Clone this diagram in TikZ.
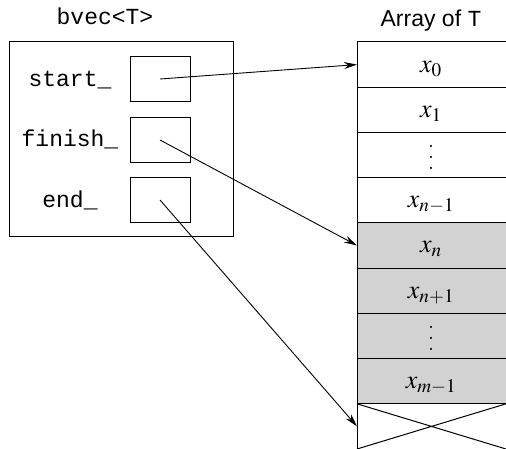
\documentclass[tikz,border=0pt]{standalone}
\usepackage{mathptmx}
\usepackage{fontspec}
\setsansfont{Liberation Sans}
\setmonofont{Liberation Mono}
\usetikzlibrary{arrows.meta}
\newcommand{\figsize}{\fontsize{23}{28}\selectfont}
\newcommand{\elemsize}{\fontsize{26}{31}\selectfont}
\tikzset{
  ptr/.style={-{Stealth[length=13pt,width=7pt]},line width=0.9pt},
  slot/.style={draw,line width=1pt,minimum width=60pt,minimum height=45pt,inner sep=0pt},
  field/.style={font=\figsize\ttfamily,anchor=base},
  elem/.style={font=\elemsize,anchor=base,inner sep=1pt},
  cellline/.style={line width=1pt},
  spare/.style={fill=gray!35,draw=none}
}
\newcommand{\tallvdots}{\lower7pt\vbox{\baselineskip=11pt\lineskiplimit=0pt\hbox{.}\hbox{.}\hbox{.}}}

\begin{document}
\begin{tikzpicture}[x=1pt,y=-1pt]
    \useasboundingbox (0,0) rectangle (506,449);
    \node[field] (vectitle) at (105,25) {bvec<T>};
    \node[font=\figsize\sffamily,anchor=base] (arrtitle) at (431,27) {Array of {\ttfamily T}};
    % the bvec object
    \draw[cellline] (9,42) rectangle (233,237);
    \node[slot] (startbox) at (160,79) {};
    \node[slot] (finishbox) at (160,140) {};
    \node[slot] (endbox) at (160,200) {};
    \node[field] (startlbl) at (70,87) {start\_};
    \node[field] (finishlbl) at (70,147) {finish\_};
    \node[field] (endlbl) at (70,208) {end\_};
    % the array
    \path[spare] (357,222.9)--(506,222.9)--(506,403.8)--(357,403.8)--cycle;
    \foreach \i in {0,...,8}
      \draw[cellline] (357,42+45.22*\i)--(506,42+45.22*\i);
    \draw[cellline] (357,42)--(357,449);
    \draw[cellline] (357,403.8)--(506,449) (357,449)--(506,403.8);
    \foreach \lbl [count=\i from 0] in {x_0,x_1,\tallvdots,x_{n-1},x_n,x_{n+1},\tallvdots,x_{m-1}}
      \node[elem] (elem\i) at (431,72.1+45.22*\i) {$\lbl$};
    \foreach \i in {0,...,8}
      \coordinate (cell\i) at (357,64.6+45.22*\i);
    % pointers
    \draw[ptr] (startbox.center)--(cell0);
    \draw[ptr] (finishbox.center)--(cell4);
    \draw[ptr] (endbox.center)--(cell8);
  \end{tikzpicture}
\end{document}
